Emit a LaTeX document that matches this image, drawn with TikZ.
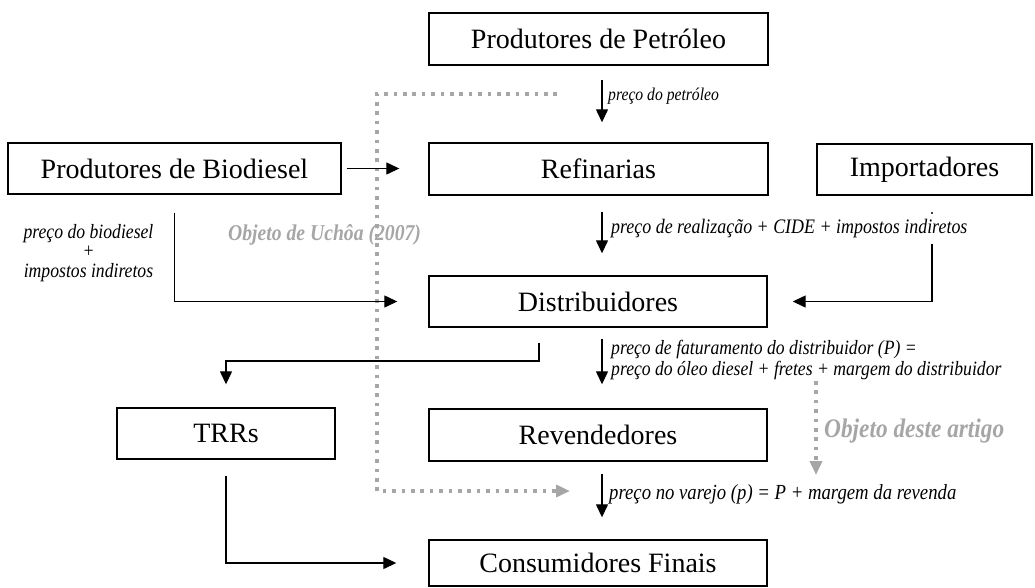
\documentclass[tikz,border=0pt]{standalone}
\usepackage{fontspec}
\setmainfont{Liberation Serif}
\newfontfamily\lblfont[FakeStretch=0.87]{Liberation Serif}
\usetikzlibrary{arrows.meta}
\definecolor{dotgray}{RGB}{166,166,166}
\begin{document}
\begin{tikzpicture}[x=1pt,y=-1pt,
  box/.style={draw, line width=1.4pt, rectangle, inner sep=0pt, font=\fontsize{28}{30}\selectfont},
  arr/.style={line width=1.3pt, -{Triangle[width=12pt,length=13pt]}},
  lbl/.style={font=\lblfont\fontsize{20.3}{20}\selectfont\itshape, inner sep=0pt, anchor=west},
  dots/.style={draw=dotgray, line width=3.6pt, dash pattern=on 3.6pt off 5.8pt},
  garr/.style={dots, -{Triangle[width=12pt,length=14pt,fill=dotgray]}},
  glbl/.style={text=dotgray, inner sep=0pt, anchor=west}
]
\useasboundingbox (0,0) rectangle (1035,587);

% boxes
\node[box, minimum width=339pt, minimum height=52pt] (pp)   at (598.5,39)    {Produtores de Petróleo};
\node[box, minimum width=333pt, minimum height=51pt] (bio)  at (174.5,168.5) {Produtores de Biodiesel};
\node[box, minimum width=339pt, minimum height=52pt] (ref)  at (598.5,169)   {Refinarias};
\node[box, minimum width=215pt, minimum height=51pt] (imp)  at (924.5,169.5) {Importadores};
\node[box, minimum width=338pt, minimum height=51pt] (dist) at (598,301.5)   {Distribuidores};
\node[box, minimum width=218pt, minimum height=51pt] (trr)  at (226,433.5)   {TRRs};
\node[box, minimum width=338pt, minimum height=52pt] (rev)  at (598,435)     {Revendedores};
\node[box, minimum width=338pt, minimum height=46pt] (cons) at (598,563)     {Consumidores Finais};

% helper coordinates
\coordinate (ax) at (602,0);
\coordinate (ix) at (932,0);
\coordinate (dot) at (932,213);
\coordinate (j1) at (539,361);
\coordinate (g1) at (557,94);
\coordinate (g2) at (377,94);
\coordinate (g3) at (377,491);
\coordinate (g4) at (570,491);
\coordinate (h1) at (816,381);
\coordinate (h2) at (816,475);

% gray dotted frames
\draw[garr] (g1) -- (g2) -- (g3) -- (g4);
\draw[garr] (h1) -- (h2);

% connectors
\draw[arr, shorten <=14pt, shorten >=20pt] (pp.south -| ax) -- (ref.north -| ax);
\draw[arr, shorten <=5pt, shorten >=29pt] (bio.east) -- (bio.east -| ref.west);
\draw[arr, shorten <=16pt, shorten >=22pt] (ref.south -| ax) -- (dist.north -| ax);
\fill (dot) circle (1.1pt);
\draw[arr, shorten <=48pt, shorten >=25pt] (imp.south -| ix) |- (dist.east);
\draw[arr, shorten <=18pt, shorten >=31pt] (bio.south) |- (dist.west);
\draw[arr, shorten <=15pt, shorten >=23pt] (dist.south -| j1) -- (j1) -| (trr.north);
\draw[arr, shorten <=11pt, shorten >=24pt] (dist.south -| ax) -- (rev.north -| ax);
\draw[arr, shorten <=12pt, shorten >=22pt] (rev.south -| ax) -- (cons.north -| ax);
\draw[arr, shorten <=16pt, shorten >=32pt] (trr.south) |- (cons.west);

% labels
\node[lbl, font=\lblfont\fontsize{18}{18}\selectfont\itshape] (l1) at (608,96) {preço do petróleo};
\node[lbl, font=\lblfont\fontsize{20.6}{20}\selectfont\itshape] (l2) at (611,229) {preço de realização + CIDE + impostos indiretos};
\node[lbl, align=left] (l3) at (611,360) {preço de faturamento do distribuidor (P) =\\[1.5pt]preço do óleo diesel + fretes + margem do distribuidor};
\node[lbl, font=\lblfont\fontsize{21.5}{20}\selectfont\itshape] (l4) at (609,494) {preço no varejo (p) = P + margem da revenda};
\node[lbl, anchor=center, align=center, font=\lblfont\fontsize{20.3}{19.5}\selectfont\itshape] (l5) at (88.5,253) {preço do biodiesel\\+\\impostos indiretos};
\node[glbl, font=\lblfont\fontsize{22.6}{22}\selectfont\bfseries\itshape] (o1) at (228,235) {Objeto de Uchôa (2007)};
\node[glbl, font=\lblfont\fontsize{26.8}{26}\selectfont\bfseries\itshape] (o2) at (824,431) {Objeto deste artigo};
\end{tikzpicture}
\end{document}
